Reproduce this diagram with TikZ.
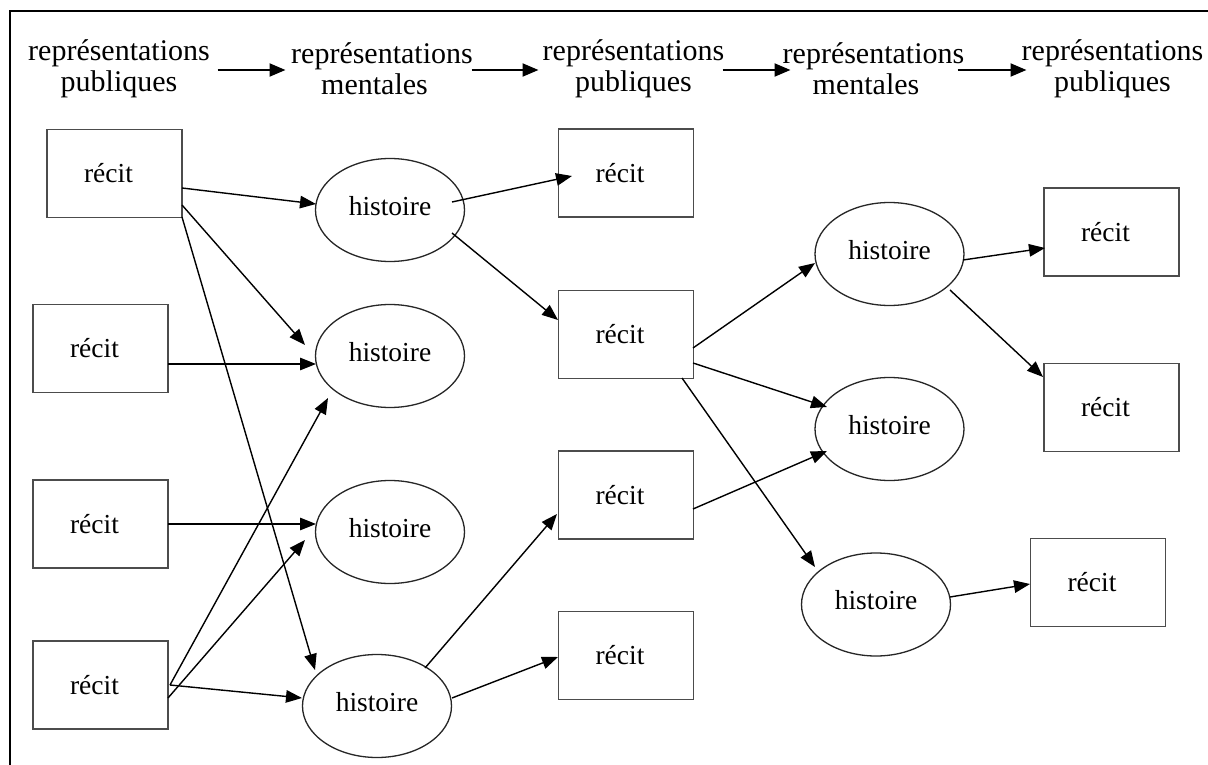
\documentclass[tikz,border=0pt]{standalone}
\usepackage{fontspec}
\setmainfont{Liberation Serif}
\usetikzlibrary{shapes.geometric,arrows.meta,calc}
\begin{document}
\begin{tikzpicture}[x=1pt,y=-1pt,
  hdr/.style={inner sep=0pt, align=center, font=\fontsize{30}{31}\selectfont},
  recit/.style={draw=black!70, line width=1.6pt, minimum width=135pt, minimum height=88pt,
    inner sep=0pt, font=\fontsize{27.5}{30}\selectfont, execute at end node={\kern12pt}},
  hist/.style={ellipse, draw=black!85, line width=1.3pt, minimum width=149pt, minimum height=103pt,
    inner sep=0pt, text depth=9pt, font=\fontsize{27.5}{30}\selectfont},
  conn/.style={line width=1.4pt, -{Triangle[length=16pt,width=12.5pt]}},
  hconn/.style={line width=2.2pt, -{Triangle[length=16pt,width=13pt]}},
  frame/.style={line width=2.6pt}
]
\useasboundingbox (0,0) rectangle (1208,765);
\fill[white] (0,0) rectangle (1208,765);
\draw[frame] (10,766) -- (10,11) -- (1209,11);

% headers
\node[hdr] (h1) at (119,68.6) {représentations\\publiques};
\node[hdr] (h2) at (382,68.6) {représentations\\mentales\hspace*{15pt}};
\node[hdr] (h3) at (633.5,68.6) {représentations\\publiques};
\node[hdr] (h4) at (873.5,68.6) {représentations\\mentales\hspace*{15pt}};
\node[hdr] (h5) at (1112.5,68.6) {représentations\\publiques};

\draw[hconn] ($(h1.east)+(7.5,1.4)$) -- ($(h2.west)+(-5.5,1.4)$);
\draw[hconn] ($(h2.east)+(-1.5,1.4)$) -- ($(h3.west)+(-4,1.4)$);
\draw[hconn] ($(h3.east)+(-2,1.4)$) -- ($(h4.west)+(8,1.4)$);
\draw[hconn] ($(h4.east)+(-7,1.4)$) -- ($(h5.west)+(5,1.4)$);

% column 1
\node[recit] (A1) at (114.5,173.5) {récit};
\node[recit] (A2) at (100.5,348.5) {récit};
\node[recit] (A3) at (100.5,524) {récit};
\node[recit] (A4) at (100.5,685) {récit};
% column 2
\node[hist] (H1) at (390,210) {histoire};
\node[hist] (H2) at (390,356) {histoire};
\node[hist] (H3) at (390,532) {histoire};
\node[hist] (H4) at (377,706) {histoire};
% column 3
\node[recit] (B1) at (626,173) {récit};
\node[recit] (B2) at (626,334.5) {récit};
\node[recit] (B3) at (626,495) {récit};
\node[recit] (B4) at (626,655.5) {récit};
% column 4
\node[hist] (D1) at (889.5,254) {histoire};
\node[hist] (D2) at (889.5,429) {histoire};
\node[hist] (D3) at (876,604.5) {histoire};
% column 5
\node[recit] (C1) at (1111.5,232) {récit};
\node[recit] (C2) at (1111.5,407.5) {récit};
\node[recit] (C3) at (1098,582.5) {récit};

% connectors
\draw[conn] ($(A1)+(67.5,14.5)$) -- ($(H1)+(-74,-6)$);
\draw[conn] ($(A1)+(67.5,31.5)$) -- ($(H2)+(-85,-11)$);
\draw[conn] ($(A1)+(67.5,43.5)$) -- ($(H4)+(-62,-36)$);
\draw[conn] ($(A2)+(67.5,15.5)$) -- ($(H2)+(-74,8)$);
\draw[conn] ($(A3)+(67.5,0)$) -- ($(H3)+(-74,-8)$);
\draw[conn] ($(A4)+(69.5,0)$) -- ($(H2)+(-62,42)$);
\draw[conn] ($(A4)+(67.5,13)$) -- ($(H3)+(-85,8)$);
\draw[conn] ($(A4)+(69.5,0)$) -- ($(H4)+(-75,-8)$);
\draw[conn] ($(H1)+(62,-8)$) -- ($(B1)+(-54,3)$);
\draw[conn] ($(H1)+(62,23)$) -- ($(B2)+(-68,-14.5)$);
\draw[conn] ($(H4)+(48,-38)$) -- ($(B3)+(-69,19)$);
\draw[conn] ($(H4)+(75,-8)$) -- ($(B4)+(-68,1.5)$);
\draw[conn] ($(B2)+(67,13.5)$) -- ($(D1)+(-74.5,9)$);
\draw[conn] ($(B2)+(67,28.5)$) -- ($(D2)+(-62.5,-22)$);
\draw[conn] ($(B2)+(56,43.5)$) -- ($(D3)+(-61,-37.5)$);
\draw[conn] ($(B3)+(67,14)$) -- ($(D2)+(-62.5,22)$);
\draw[conn] ($(D1)+(73.5,6)$) -- ($(C1)+(-66.5,16)$);
\draw[conn] ($(D1)+(60.5,36)$) -- ($(C2)+(-68.5,-30.5)$);
\draw[conn] ($(D3)+(74,-7.5)$) -- ($(C3)+(-68,1.5)$);
\end{tikzpicture}
\end{document}
